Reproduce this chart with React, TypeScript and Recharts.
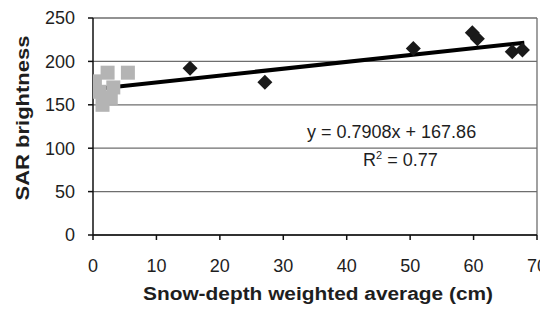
import { ComposedChart, Scatter, Line, XAxis, YAxis, CartesianGrid, ReferenceLine } from 'recharts'

// shallow-snow sites (gray squares)
const shallowX = [0.3, 1.0, 1.5, 2.3, 2.8, 3.2, 5.5]
const shallowY = [177, 165, 150, 187, 158, 170, 187]
// deep-snow sites (black diamonds)
const deepX = [15.3, 27.1, 50.5, 59.8, 60.6, 66.1, 67.7]
const deepY = [192, 176, 215, 233, 226, 211, 213]
// linear trend endpoints
const trendX = [0, 68]
const trendY = [167.9, 221.6]

const xTicks = [0, 10, 20, 30, 40, 50, 60, 70]
const yTicks = [0, 50, 100, 150, 200, 250]

const shallow = shallowX.map((x, i) => ({ x, y: shallowY[i] }))
const deep = deepX.map((x, i) => ({ x, y: deepY[i] }))
const trend = trendX.map((x, i) => ({ x, y: trendY[i] }))

const FONT = '"Liberation Sans", Arial, sans-serif'
const INK = '#1e1e1e'

const Square = (props: any) => {
  const { cx, cy } = props
  return <rect x={cx - 7} y={cy - 7} width={14} height={14} fill="#b4b4b4" />
}

const Diamond = (props: any) => {
  const { cx, cy } = props
  const r = 7.5
  return <polygon points={`${cx},${cy - r} ${cx + r},${cy} ${cx},${cy + r} ${cx - r},${cy}`} fill="#1a1a1a" />
}

// tick label, slightly widened like the scanned original
const XTick = (props: any) => {
  const { x, y, payload } = props
  return (
    <text x={x} y={y} dy="0.71em" textAnchor="middle" fontSize={18} fill={INK} fontFamily={FONT}>
      {payload.value}
    </text>
  )
}

const YTick = (props: any) => {
  const { x, y, payload } = props
  return (
    <text x={x} y={y} dy="0.355em" textAnchor="end" fontSize={18} fill={INK} fontFamily={FONT}>
      {payload.value}
    </text>
  )
}

export default function App() {
  return (
    <div style={{ position: 'relative', width: 540, height: 303, fontFamily: FONT, background: '#fff' }}>
      <ComposedChart width={540} height={303} margin={{ top: 10, right: 11, bottom: 16, left: 30 }}>
        <CartesianGrid vertical={false} stroke="#6e6e6e" strokeWidth={1.3} />
        <ReferenceLine x={70} stroke="#6e6e6e" strokeWidth={1.3} />
        <XAxis
          type="number"
          dataKey="x"
          domain={[0, 70]}
          ticks={xTicks}
          allowDataOverflow
          height={60}
          stroke="#111"
          strokeWidth={1.5}
          tickSize={5}
          tickMargin={19}
          tick={XTick}
          label={{
            content: () => (
              <text x={310} y={292} textAnchor="middle" fontSize={18} fontWeight="bold" fill={INK} fontFamily={FONT} textLength={350} lengthAdjust="spacingAndGlyphs">
                Snow-depth weighted average (cm)
              </text>
            ),
          }}
        />
        <YAxis
          type="number"
          dataKey="y"
          domain={[0, 250]}
          ticks={yTicks}
          allowDataOverflow
          width={55}
          stroke="#111"
          strokeWidth={1.5}
          tickSize={5}
          tickMargin={13}
          tick={YTick}
          label={{
            content: () => (
              <text x={21} y={110} transform="rotate(-90 21 110)" textAnchor="middle" fontSize={18} fontWeight="bold" fill={INK} fontFamily={FONT} textLength={165} lengthAdjust="spacingAndGlyphs">
                SAR brightness
              </text>
            ),
          }}
        />
        <Scatter data={shallow} dataKey="y" shape={Square} isAnimationActive={false} />
        <Scatter data={deep} dataKey="y" shape={Diamond} isAnimationActive={false} />
        <Line data={trend} dataKey="y" type="linear" stroke="#000" strokeWidth={4} dot={false} activeDot={false} isAnimationActive={false} />
      </ComposedChart>
      <div style={{ position: 'absolute', left: 299, top: 115, fontSize: 18, lineHeight: '18px', color: INK, whiteSpace: 'nowrap' }}>
        y = 0.7908x + 167.86
      </div>
      <div style={{ position: 'absolute', left: 355, top: 143, fontSize: 18, lineHeight: '18px', color: INK, whiteSpace: 'nowrap' }}>
        R<sup style={{ fontSize: 11, lineHeight: 0, verticalAlign: 7 }}>2</sup> = 0.77
      </div>
    </div>
  )
}
